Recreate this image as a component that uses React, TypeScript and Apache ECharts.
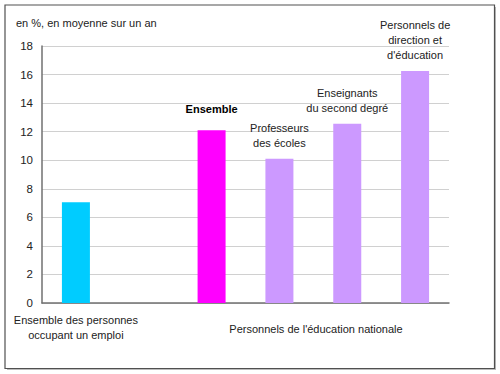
import React, { useEffect, useRef } from "react";
import * as echarts from "echarts";

const categories = [
  "Ensemble des personnes occupant un emploi",
  "",
  "Ensemble",
  "Professeurs des écoles",
  "Enseignants du second degré",
  "Personnels de direction et d'éducation",
];
const values: (number | null)[] = [7.05, null, 12.1, 10.1, 12.55, 16.25];
const barColors = ["#00CCFF", "#FFFFFF", "#FF00FF", "#CC99FF", "#CC99FF", "#CC99FF"];
const barLabels = [
  "",
  "",
  "Ensemble",
  "Professeurs\ndes écoles",
  "Enseignants\ndu second degré",
  "Personnels de\ndirection et\nd'éducation",
];
const xLabels = ["Ensemble des personnes\noccupant un emploi", "", "", "", "", ""];
const groupLabel = "Personnels de l'éducation nationale";
const unitLabel = "en %, en moyenne sur un an";
const yMin = 0;
const yMax = 18;
const yStep = 2;

const FONT = "Liberation Sans, Arial, sans-serif";
const FS = 11;

export default function App() {
  const ref = useRef<HTMLDivElement>(null);
  useEffect(() => {
    if (!ref.current) return;
    const chart = echarts.init(ref.current, null, { renderer: "svg" });
    chart.setOption({
      animation: false,
      backgroundColor: "#FFFFFF",
      textStyle: { fontFamily: FONT },
      grid: { left: 42, right: 51, top: 46, bottom: 71, containLabel: false },
      graphic: [
        {
          type: "rect",
          shape: { x: 7, y: 7, width: 489, height: 363 },
          style: { fill: "#BBBBBB" },
          z: -10,
        },
        {
          type: "rect",
          shape: { x: 5, y: 5, width: 489.5, height: 363.5 },
          style: { fill: "#FFFFFF", stroke: "#505050", lineWidth: 1.2 },
          z: -9,
        },
        {
          type: "text",
          x: 16,
          y: 17,
          style: { text: unitLabel, fontSize: FS, fill: "#222", fontFamily: FONT },
        },
        {
          type: "text",
          x: 316,
          y: 329,
          style: {
            text: groupLabel,
            fontSize: FS,
            fill: "#222",
            fontFamily: FONT,
            align: "center",
            verticalAlign: "middle",
          },
        },
      ],
      xAxis: {
        type: "category",
        data: categories,
        axisLine: { lineStyle: { color: "#707070", width: 1.5 } },
        axisTick: { show: false },
        axisLabel: {
          interval: 0,
          formatter: (_: string, i: number) => xLabels[i],
          fontSize: FS,
          color: "#222",
          lineHeight: 14.5,
          margin: 10,
          fontFamily: FONT,
        },
      },
      yAxis: {
        type: "value",
        min: yMin,
        max: yMax,
        interval: yStep,
        axisLine: { show: true, lineStyle: { color: "#707070", width: 1.5 } },
        axisTick: { show: false },
        splitLine: { lineStyle: { color: "#D0D0D0", width: 1 } },
        axisLabel: { fontSize: 11.5, color: "#222", margin: 9, fontFamily: FONT },
      },
      series: [
        {
          type: "bar",
          barWidth: 28,
          data: values.map((v, i) => ({
            value: v,
            itemStyle: { color: barColors[i] },
            label: {
              show: !!barLabels[i],
              position: "top",
              formatter: barLabels[i],
              fontSize: FS,
              lineHeight: 15,
              color: i === 2 ? "#000" : "#222",
              fontWeight: i === 2 ? "bold" : "normal",
              distance: i === 2 ? 14 : 8,
              fontFamily: FONT,
            },
          })),
        },
      ],
    });
    return () => chart.dispose();
  }, []);
  return (
    <div
      ref={ref}
      style={{ position: "absolute", left: 0, top: 0, width: 500, height: 374 }}
    />
  );
}
